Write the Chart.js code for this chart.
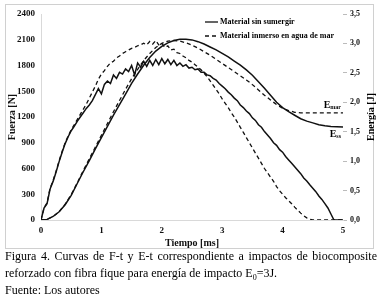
<!DOCTYPE html>
<html><head><meta charset="utf-8">
<script src="https://cdn.jsdelivr.net/npm/chart.js@4.4.1/dist/chart.umd.min.js"></script>
<style>
html,body{margin:0;padding:0;background:#fff;width:383px;height:301px;overflow:hidden}
#box{position:absolute;left:5px;top:4px;width:369px;height:245px;border:1px solid #d0d0d0;box-sizing:border-box}
#wrap{position:absolute;left:0;top:0;width:383px;height:250px}
#cap{position:absolute;left:5px;top:248px;width:372px;font-family:'Liberation Serif','Times New Roman',serif;font-size:12px;line-height:17px;color:#000;white-space:nowrap}
#cap div{white-space:nowrap}
#cap .j{text-align:justify;text-align-last:justify;white-space:normal}
#cap .s{font-size:8px;line-height:0;vertical-align:-3px}
</style></head><body>
<div id="box"></div>
<div id="wrap"><canvas id="c" width="383" height="250"></canvas></div>
<div id="cap"><div class="j">Figura 4. Curvas de F-t y E-t correspondiente a impactos de biocomposite</div><div>reforzado con fibra fique para energía de impacto E<span class="s">0</span>=3J.</div><div>Fuente: Los autores</div></div>
<script>
// ---- data ----
const seriesNames = ['Material sin sumergir', 'Material inmerso en agua de mar'];
const timeF = [0,0.05,0.1,0.15,0.2,0.25,0.3,0.35,0.4,0.45,0.5,0.55,0.6,0.65,0.7,0.75,0.8,0.85,0.9,0.95,
  1,1.05,1.1,1.15,1.2,1.25,1.3,1.35,1.4,1.45,1.5,1.55,1.6,1.65,1.7,1.75,1.8,1.85,1.9,1.95,
  2,2.05,2.1,2.15,2.2,2.25,2.3,2.35,2.4,2.45,2.5,2.55,2.6,2.65,2.7,2.75,2.8,2.85,2.9,2.95,
  3,3.05,3.1,3.15,3.2,3.25,3.3,3.35,3.4,3.45,3.5,3.55,3.6,3.65,3.7,3.75,3.8,3.85,3.9,3.95,
  4,4.05,4.1,4.15,4.2,4.25,4.3,4.35,4.4,4.45,4.5,4.55,4.6,4.65,4.7,4.75,4.8,4.85,4.9,4.95,5];
const forceSS = [0,140,190,360,450,560,680,790,890,970,1040,1090,1150,1200,1250,1300,1340,1390,1460,1530,
  1470,1580,1620,1590,1690,1650,1720,1700,1760,1730,1800,1690,1830,1780,1850,1790,1860,1800,1870,1810,
  1880,1820,1870,1810,1860,1800,1830,1790,1810,1770,1780,1750,1760,1720,1720,1690,1680,1650,1630,1590,
  1560,1530,1490,1460,1420,1390,1340,1310,1270,1240,1190,1160,1110,1080,1030,990,950,900,870,820,
  790,740,700,660,620,580,540,490,455,410,370,330,280,240,190,140,70,0,0,0,0];
const forceMar = [0,140,200,370,460,570,690,800,900,980,1050,1110,1170,1230,1290,1350,1420,1490,1560,1640,
  1700,1740,1790,1830,1850,1890,1910,1940,1960,1980,2000,2010,2030,2040,2060,2040,2080,2050,2090,2040,
  2060,2010,2030,1980,1990,1950,1940,1910,1890,1860,1840,1810,1780,1750,1710,1670,1620,1570,1520,1470,
  1410,1360,1310,1250,1200,1140,1080,1020,960,900,840,780,720,660,600,550,500,450,390,340,
  300,260,225,190,150,115,80,50,25,10,0,0,0,0,0,0,0,0,0,0,0];
const timeE = [0,0.1,0.2,0.3,0.4,0.5,0.6,0.7,0.8,0.9,1,1.1,1.2,1.3,1.4,1.5,1.6,1.7,1.8,1.9,
  2,2.1,2.2,2.3,2.4,2.5,2.6,2.7,2.8,2.9,3,3.1,3.2,3.3,3.4,3.5,3.6,3.7,3.8,3.9,
  4,4.1,4.2,4.3,4.4,4.5,4.6,4.7,4.8,4.9,5];
const energySS = [0,0.01,0.06,0.14,0.26,0.42,0.62,0.82,1.01,1.21,1.40,1.59,1.78,1.96,2.14,2.32,2.48,2.63,2.76,2.87,
  2.95,3.01,3.05,3.07,3.07,3.06,3.03,2.99,2.94,2.89,2.83,2.77,2.70,2.63,2.55,2.46,2.35,2.24,2.12,2.00,
  1.91,1.84,1.78,1.72,1.68,1.65,1.62,1.60,1.59,1.585,1.58];
const energyMar = [0,0.01,0.06,0.14,0.27,0.43,0.63,0.84,1.04,1.24,1.44,1.64,1.84,2.03,2.22,2.40,2.56,2.71,2.83,2.93,
  3.00,3.04,3.05,3.04,3.01,2.97,2.92,2.86,2.80,2.73,2.66,2.59,2.52,2.45,2.38,2.30,2.21,2.12,2.04,1.96,
  1.90,1.86,1.83,1.82,1.82,1.82,1.82,1.82,1.82,1.82,1.82];
const timeTicks = [0,1,2,3,4,5];
const forceTicks = [0,300,600,900,1200,1500,1800,2100,2400];
const energyTicks = ['0,0','0,5','1,0','1,5','2,0','2,5','3,0','3,5'];
const energyLabels = ['mar','ss'];

// ---- chart ----
const SERIF = "'Liberation Serif','Times New Roman',serif";
Chart.defaults.font.family = SERIF;
const pts = (xs, ys) => xs.map((x, i) => ({x, y: ys[i]}));

const decor = {
  id: 'decor',
  afterDraw(chart) {
    const {ctx, chartArea: a, scales} = chart;
    ctx.save();
    // legend
    const lx = a.left + 164, rows = [a.top + 8, a.top + 22];
    chart.data.datasets.slice(0, 2).forEach((ds, i) => {
      ctx.strokeStyle = ds.borderColor; ctx.lineWidth = 1.3;
      ctx.setLineDash(ds.borderDash || []);
      ctx.beginPath(); ctx.moveTo(lx, rows[i]); ctx.lineTo(lx + 13, rows[i]); ctx.stroke();
      ctx.setLineDash([]);
      ctx.fillStyle = '#000'; ctx.font = "bold 8px " + SERIF;
      ctx.textBaseline = 'middle'; ctx.textAlign = 'left';
      ctx.fillText(ds.label, lx + 15, rows[i]);
    });
    // E labels at the end of the energy curves
    const xEnd = scales.x.getPixelForValue(timeE[timeE.length - 1]) - 2;
    const ends = [
      {v: energyMar[energyMar.length - 1], sub: energyLabels[0], dy: -5},
      {v: energySS[energySS.length - 1], sub: energyLabels[1], dy: 10}
    ];
    ctx.textBaseline = 'alphabetic'; ctx.textAlign = 'left'; ctx.fillStyle = '#000';
    ends.forEach(e => {
      const y = scales.yE.getPixelForValue(e.v) + e.dy;
      ctx.font = "bold 6px " + SERIF;
      const ws = ctx.measureText(e.sub).width;
      ctx.font = "bold 10px " + SERIF;
      const we = ctx.measureText('E').width;
      ctx.fillText('E', xEnd - ws - we, y);
      ctx.font = "bold 6px " + SERIF;
      ctx.fillText(e.sub, xEnd - ws, y + 1);
    });
    // right axis title (reads bottom-to-top)
    ctx.translate(scales.yE.right - 12, (a.top + a.bottom) / 2);
    ctx.rotate(-Math.PI / 2);
    ctx.font = "bold 10px " + SERIF; ctx.textAlign = 'center'; ctx.textBaseline = 'middle';
    ctx.fillText('Energía [J]', 0, 0);
    ctx.restore();
  }
};

new Chart(document.getElementById('c'), {
  type: 'line',
  data: {
    datasets: [
      {label: seriesNames[0], data: pts(timeF, forceSS), yAxisID: 'yF', borderColor: '#111', borderWidth: 1.5},
      {label: seriesNames[1], data: pts(timeF, forceMar), yAxisID: 'yF', borderColor: '#111', borderWidth: 1.3, borderDash: [4, 3]},
      {label: 'E ss', data: pts(timeE, energySS), yAxisID: 'yE', borderColor: '#111', borderWidth: 1.5},
      {label: 'E mar', data: pts(timeE, energyMar), yAxisID: 'yE', borderColor: '#111', borderWidth: 1.3, borderDash: [4, 3]}
    ]
  },
  options: {
    responsive: false, animation: false, devicePixelRatio: 1,
    layout: {padding: {top: 14, left: 0, right: 0, bottom: 0}},
    elements: {point: {radius: 0}, line: {tension: 0, fill: false}},
    plugins: {legend: {display: false}, tooltip: {enabled: false}},
    scales: {
      x: {
        type: 'linear', min: 0, max: 5,
        afterBuildTicks: s => { s.ticks = timeTicks.map(v => ({value: v})); },
        ticks: {font: {size: 9, weight: 'bold'}, color: '#111', padding: 5, callback: v => String(v)},
        grid: {display: false, drawTicks: false},
        border: {display: true, color: '#d9d9d9'},
        title: {display: true, text: 'Tiempo [ms]', color: '#111', font: {size: 10, weight: 'bold'}, padding: {top: 0, bottom: 1}},
        afterFit: s => { s.height = 30; }
      },
      yF: {
        position: 'left', min: 0, max: 2400,
        afterBuildTicks: s => { s.ticks = forceTicks.map(v => ({value: v})); },
        ticks: {font: {size: 9, weight: 'bold'}, color: '#111', padding: 6, callback: v => String(v)},
        grid: {display: false, drawTicks: false},
        border: {display: true, color: '#d9d9d9'},
        title: {display: true, text: 'Fuerza [N]', color: '#111', font: {size: 10, weight: 'bold'}, padding: {top: 6, bottom: 0}},
        afterFit: s => { s.width = 41; }
      },
      yE: {
        position: 'right', min: 0, max: 3.5,
        afterBuildTicks: s => { s.ticks = energyTicks.map((t, i) => ({value: i * 0.5})); },
        ticks: {font: {size: 8, weight: 'bold'}, color: '#111', padding: 3,
          callback: (v, i) => energyTicks[i]},
        grid: {display: true, drawOnChartArea: false, drawTicks: true, tickLength: 4, color: '#bbb'},
        border: {display: false},
        afterFit: s => { s.width = 40; }
      }
    }
  },
  plugins: [decor]
});
</script>
</body></html>
